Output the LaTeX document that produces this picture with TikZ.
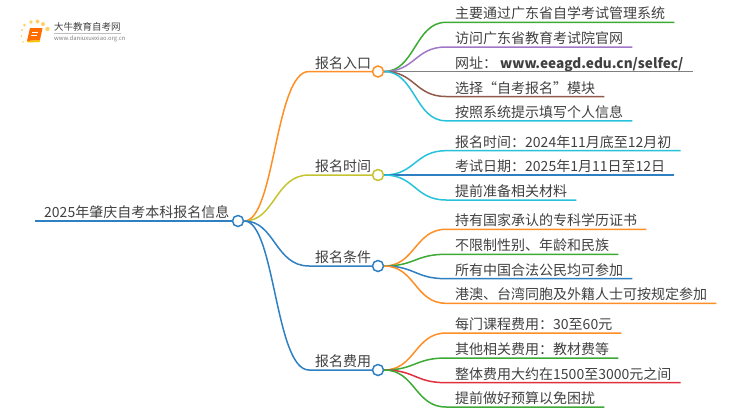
\documentclass[tikz,border=0pt]{standalone}
\usepackage{fontspec}
\setmainfont{Noto Sans CJK SC}
\definecolor{branchorange}{HTML}{FF8E24}
\definecolor{brancholive}{HTML}{C4C431}
\definecolor{branchblue}{HTML}{2F80C2}
\definecolor{leafgreen}{HTML}{3DAA35}
\definecolor{leafpurple}{HTML}{A077C9}
\definecolor{leafgray}{HTML}{808080}
\definecolor{leafbrown}{HTML}{90594A}
\definecolor{leafcyan}{HTML}{27C1DA}
\definecolor{leafred}{HTML}{E0303F}
\definecolor{booktext}{HTML}{404040}
\tikzset{
    title/.style={anchor=south west, inner xsep=9pt, inner ysep=0.3pt, text height=12pt, text depth=3pt, font=\fontsize{14pt}{14pt}\selectfont, text=booktext},
    hub/.style={circle, draw=#1, line width=1.5pt, fill=white, inner sep=0pt, minimum size=11pt},
    link/.style={line width=1.5pt},
}
\begin{document}
\begin{tikzpicture}[x=1pt, y=-1pt]
    \useasboundingbox (0, 0) rectangle (750, 410);

    % Draw the logo
    \fill[orange!60!yellow, opacity=0.6] (22, 30) circle (1.2) (24.5, 25) circle (1.5) (31, 22) circle (1.8) (37.5, 21.5) circle (2) (43, 24) circle (2) (47.5, 29) circle (2.2) (21.5, 36) circle (1) (23, 42) circle (0.8);
    \fill[orange!85!red] (30, 28) -- (42.5, 28) -- (40, 40) -- (27, 41) -- cycle;
    \fill[orange!50!yellow] (27, 41) -- (40, 40) -- (39.5, 42) -- (28, 42.5) -- cycle;
    \draw[white, line width=0.6pt] (32, 32) -- (38, 32) (31, 35) -- (37, 35);
    \node[inner sep=0pt, anchor=west, font=\fontsize{9.5pt}{9.5pt}\selectfont, text=booktext] (brand) at (54, 27) {大牛教育自考网};
    \node[inner sep=0pt, anchor=west, font=\fontsize{5.9pt}{6pt}\selectfont, text=leafgray] (site) at (54, 38.5) {www.daniuxuexiao.org.cn};
    \draw[black!25, line width=0.5pt] (54, 33.5) -- (121, 33.5);

    % Draw hubs
    \node[hub=branchblue] (hub0) at (238, 221) {};
    \node[hub=branchorange] (hub1) at (378, 71.5) {};
    \node[hub=brancholive] (hub2) at (378, 175) {};
    \node[hub=branchblue] (hub3) at (378, 266) {};
    \node[hub=branchblue] (hub4) at (378, 370) {};

    % Draw the root and branch labels
    \node[title] (root) at (35, 221) {2025年肇庆自考本科报名信息};
    \node[title, inner xsep=6pt] (b1) at (309, 71.5) {报名入口};
    \node[title, inner xsep=6pt] (b2) at (309, 175) {报名时间};
    \node[title, inner xsep=6pt] (b3) at (309, 266) {报名条件};
    \node[title, inner xsep=6pt] (b4) at (309, 370) {报名费用};

    % Draw leaves of 报名入口
    \node[title] (l11) at (446, 22.3) {主要通过广东省自学考试管理系统};
    \node[title] (l12) at (446, 47) {访问广东省教育考试院官网};
    \node[title] (l13) at (446, 71.5) {网址：\hspace{3pt}{\fontsize{13.6pt}{14pt}\selectfont\textbf{www.eeagd.edu.cn/selfec/}}};
    \node[title] (l14) at (446, 96.5) {选择“自考报名”模块};
    \node[title] (l15) at (446, 120.8) {按照系统提示填写个人信息};

    % Draw leaves of 报名时间
    \node[title] (l21) at (446, 150.7) {报名时间：2024年11月底至12月初};
    \node[title] (l22) at (446, 175) {考试日期：2025年1月11日至12日};
    \node[title] (l23) at (446, 200) {提前准备相关材料};

    % Draw leaves of 报名条件
    \node[title] (l31) at (446, 229.3) {持有国家承认的专科学历证书};
    \node[title] (l32) at (446, 254.3) {不限制性别、年龄和民族};
    \node[title] (l33) at (446, 278.7) {所有中国合法公民均可参加};
    \node[title] (l34) at (446, 303.3) {港澳、台湾同胞及外籍人士可按规定参加};

    % Draw leaves of 报名费用
    \node[title] (l41) at (446, 333) {每门课程费用：30至60元};
    \node[title] (l42) at (446, 358) {其他相关费用：教材费等};
    \node[title] (l43) at (446, 382.7) {整体费用大约在1500至3000元之间};
    \node[title] (l44) at (446, 407) {提前做好预算以免困扰};

    % Draw the root underline
    \draw[link, branchblue] (root.south west) -- (hub0);

    % Draw branches from the root
    \draw[link, branchorange] (hub0.east) .. controls (275, 221) and (275, 71.5) .. (b1.south west) -- (hub1);
    \draw[link, brancholive] (hub0.east) .. controls (275, 221) and (275, 175) .. (b2.south west) -- (hub2);
    \draw[link, branchblue] (hub0.east) .. controls (275, 221) and (275, 266) .. (b3.south west) -- (hub3);
    \draw[link, branchblue] (hub0.east) .. controls (275, 221) and (275, 370) .. (b4.south west) -- (hub4);

    % Draw edges of 报名入口
    \draw[link, leafgreen] (hub1.east) .. controls (415, 71.5) and (415, 22.3) .. (l11.south west) -- (l11.south east);
    \draw[link, leafpurple] (hub1.east) .. controls (415, 71.5) and (415, 47) .. (l12.south west) -- (l12.south east);
    \draw[link, leafgray] (hub1.east) -- (l13.south west) -- (l13.south east);
    \draw[link, leafbrown] (hub1.east) .. controls (415, 71.5) and (415, 96.5) .. (l14.south west) -- (l14.south east);
    \draw[link, leafcyan] (hub1.east) .. controls (415, 71.5) and (415, 120.8) .. (l15.south west) -- (l15.south east);

    % Draw edges of 报名时间
    \draw[link, leafcyan] (hub2.east) .. controls (415, 175) and (415, 150.7) .. (l21.south west) -- (l21.south east);
    \draw[link, branchblue] (hub2.east) -- (l22.south west) -- (l22.south east);
    \draw[link, leafcyan] (hub2.east) .. controls (415, 175) and (415, 200) .. (l23.south west) -- (l23.south east);

    % Draw edges of 报名条件
    \draw[link, branchorange] (hub3.east) .. controls (415, 266) and (415, 229.3) .. (l31.south west) -- (l31.south east);
    \draw[link, leafgreen] (hub3.east) .. controls (415, 266) and (415, 254.3) .. (l32.south west) -- (l32.south east);
    \draw[link, branchblue] (hub3.east) .. controls (415, 266) and (415, 278.7) .. (l33.south west) -- (l33.south east);
    \draw[link, branchorange] (hub3.east) .. controls (415, 266) and (415, 303.3) .. (l34.south west) -- (l34.south east);

    % Draw edges of 报名费用
    \draw[link, branchorange] (hub4.east) .. controls (415, 370) and (415, 333) .. (l41.south west) -- (l41.south east);
    \draw[link, leafgreen] (hub4.east) .. controls (415, 370) and (415, 358) .. (l42.south west) -- (l42.south east);
    \draw[link, leafred] (hub4.east) .. controls (415, 370) and (415, 382.7) .. (l43.south west) -- (l43.south east);
    \draw[link, leafgreen] (hub4.east) .. controls (415, 370) and (415, 407) .. (l44.south west) -- (l44.south east);
\end{tikzpicture}
\end{document}
